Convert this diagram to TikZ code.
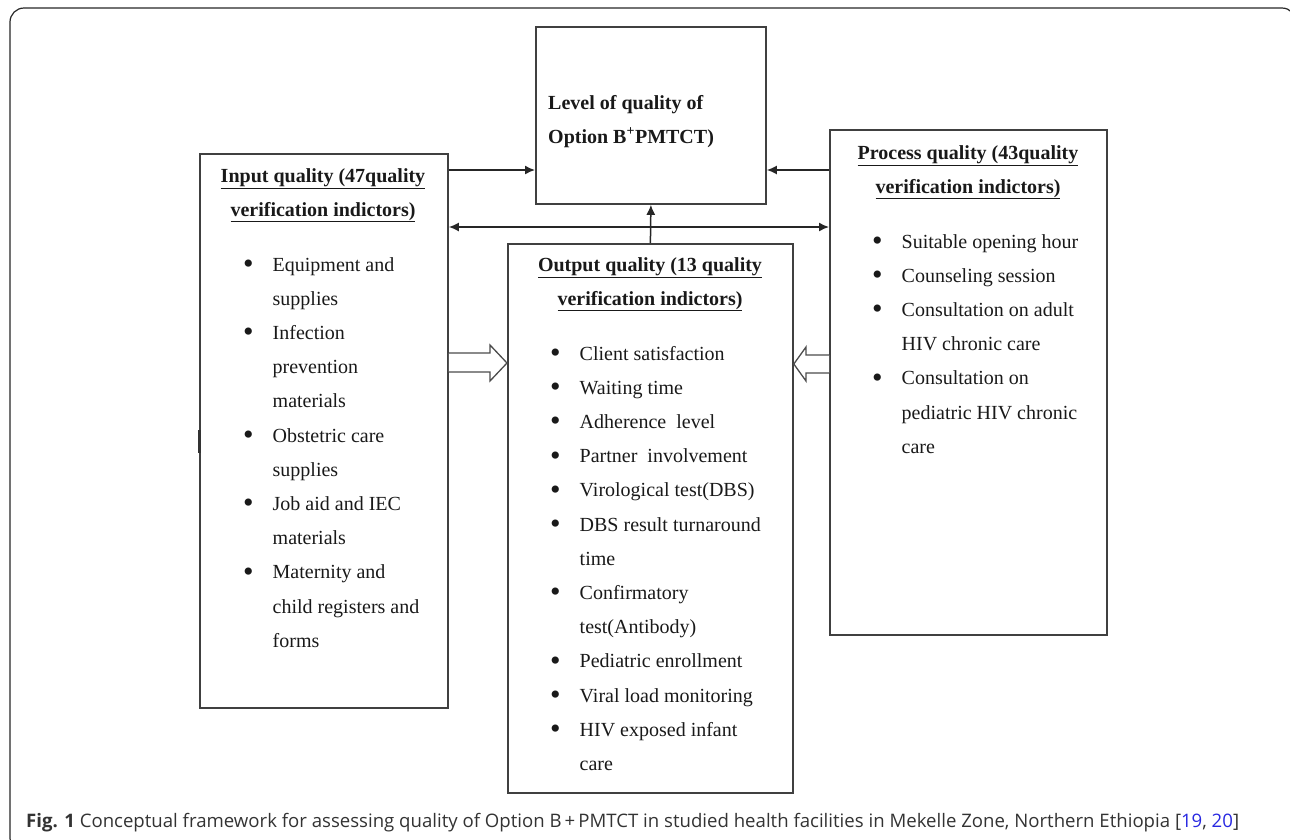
\documentclass[tikz,border=0pt]{standalone}
\usepackage{fontspec}
\setmainfont{Liberation Serif}
\newfontfamily\capfont{Open Sans}
\usepackage{xcolor}
\usetikzlibrary{
	arrows.meta,
	calc,
	positioning
}
\definecolor{refblue}{RGB}{40,40,225}
\tikzset{
	box/.style={draw=black!75,line width=1.8pt,anchor=north west,inner sep=0pt},
	head/.style={font=\bfseries\fontsize{20}{34}\selectfont,anchor=base,inner sep=0pt,text=black!90},
	list/.style={font=\fontsize{20}{34.2}\selectfont,anchor=base west,inner sep=0pt,text=black!90},
	link/.style={draw=black!85,line width=1.5pt,-{Latex[length=10pt,width=9pt]}},
	hollow/.style={draw=black!70,line width=1.3pt,fill=white}
}
\newcommand{\blt}{\raisebox{-2.5pt}{\fontsize{30}{30}\selectfont\textbullet}}
\newcommand{\tikzHead}[3]{\node (#3) at #1 [head]{\begin{tabular}[t]{@{}c@{}}#2\end{tabular}};}
\newcommand{\tikzList}[3]{\node (#3) at #1 [list]{\begin{tabular}[t]{@{}l@{\hspace{19pt}}l@{}}#2\end{tabular}};}

\begin{document}
\begin{tikzpicture}[x=1pt,y=-1pt]
	\useasboundingbox (0,0) rectangle (1290,839);
	\clip (0,0) rectangle (1290,839);
	\draw[black!85,line width=1.2pt,rounded corners=14pt] (10,8) rectangle (1296,852);
	
	\node[box,minimum width=230pt,minimum height=177pt] (lvl) at (535,26) {};
	\node[box,minimum width=248pt,minimum height=554pt] (in) at (199,153) {};
	\node[box,minimum width=285pt,minimum height=549pt] (out) at (507,243) {};
	\node[box,minimum width=277pt,minimum height=505pt] (proc) at (829,129) {};
	\draw[line width=3pt,black!80] (in.west |- 0,430) -- (in.west |- 0,453);
	
	\node[head,anchor=base west] (lvltxt) at (548,109) {\begin{tabular}[t]{@{}l@{}}Level of quality of\\Option B\textsuperscript{+}PMTCT)\end{tabular}};
	
	\tikzHead{(323,182)}{\underline{Input quality (47quality}\\\underline{verification indictors)}}{inhead}
	\tikzHead{(650,271)}{\underline{Output quality (13 quality}\\\underline{verification indictors)}}{outhead}
	\tikzHead{(968,159)}{\underline{Process quality (43quality}\\\underline{verification indictors)}}{prochead}
	
	\tikzList{(243,271)}{%
		\blt & Equipment and\\ & supplies\\
		\blt & Infection\\ & prevention\\ & materials\\
		\blt & Obstetric care\\ & supplies\\
		\blt & Job aid and IEC\\ & materials\\
		\blt & Maternity and\\ & child registers and\\ & forms}{inlist}
	\tikzList{(550,360)}{%
		\blt & Client satisfaction\\
		\blt & Waiting time\\
		\blt & Adherence\ \ level\\
		\blt & Partner\ \ involvement\\
		\blt & Virological test(DBS)\\
		\blt & DBS result turnaround\\ & time\\
		\blt & Confirmatory\\ & test(Antibody)\\
		\blt & Pediatric enrollment\\
		\blt & Viral load monitoring\\
		\blt & HIV exposed infant\\ & care}{outlist}
	\tikzList{(872,248)}{%
		\blt & Suitable opening hour\\
		\blt & Counseling session\\
		\blt & Consultation on adult\\ & HIV chronic care\\
		\blt & Consultation on\\ & pediatric HIV chronic\\ & care}{proclist}
	
	\draw[link] (in.east |- 0,170) -- (lvl.west |- 0,170);
	\draw[link] (proc.west |- 0,170) -- (lvl.east |- 0,170);
	\draw[link,{Latex[length=10pt,width=9pt]}-{Latex[length=10pt,width=9pt]}] (in.east |- 0,227) -- (proc.west |- 0,227);
	\draw[link] (out.north) -- (lvl.south);
	
	\draw[hollow] (in.east |- 0,353) -- (490,353) -- (490,345) -- (out.west |- 0,363) -- (490,381) -- (490,372) -- (in.east |- 0,372);
	\draw[hollow] (proc.west |- 0,355) -- (806,355) -- (806,347) -- (out.east |- 0,364) -- (806,381) -- (806,373) -- (proc.west |- 0,373);
	
	\node[anchor=base west,inner sep=0pt,text=black!80,font=\capfont\fontsize{18.6}{20}\selectfont] (cap) at (26,827) {\textbf{Fig. 1} Conceptual framework for assessing quality of Option B\,+\,PMTCT in studied health facilities in Mekelle Zone, Northern Ethiopia [\textcolor{refblue}{19}, \textcolor{refblue}{20}]};
\end{tikzpicture}
\end{document}
